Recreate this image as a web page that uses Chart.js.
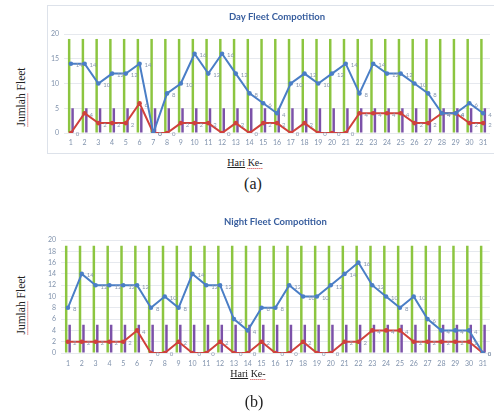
<!DOCTYPE html>
<html><head><meta charset="utf-8">
<script src="https://cdn.jsdelivr.net/npm/chart.js@4"></script>
<style>
html,body{margin:0;padding:0;background:#fff;width:494px;height:413px;overflow:hidden;}
body{position:relative;font-family:"Liberation Serif","Times New Roman",serif;color:#222;}
#boxA{position:absolute;left:47px;top:5px;width:470px;height:147px;border:1px solid #dde2ea;}
#cA{position:absolute;left:48px;top:6px;}
#cB{position:absolute;left:40px;top:210px;}
.t{position:absolute;white-space:nowrap;line-height:1;transform:translate(-50%,-50%);}
.yt{font-size:11.5px;transform:translate(-50%,-50%) rotate(-90deg);}
.xt{font-size:10px;}
.cap{font-size:16px;}
.sq{text-decoration:underline dotted #d23c3c;text-decoration-thickness:1px;text-underline-offset:2px;}
.ul{text-decoration:underline;text-underline-offset:1px;}
</style></head>
<body>
<div id="boxA"></div>
<canvas id="cA" width="446" height="147"></canvas>
<canvas id="cB" width="454" height="160"></canvas>
<div class="t yt" style="left:22px;top:97px;"><span class="sq">Jumlah</span> Fleet</div>
<div class="t xt" style="left:245px;top:163px;"><span class="ul">Hari</span> <span class="sq">Ke-</span></div>
<div class="t cap" style="left:253px;top:184px;">(a)</div>
<div class="t yt" style="left:22px;top:305px;"><span class="sq">Jumlah</span> Fleet</div>
<div class="t xt" style="left:248px;top:374px;"><span class="ul">Hari</span> <span class="sq">Ke-</span></div>
<div class="t cap" style="left:254px;top:402px;">(b)</div>
<script>
const days = ['1','2','3','4','5','6','7','8','9','10','11','12','13','14','15','16','17','18','19','20','21','22','23','24','25','26','27','28','29','30','31'];

const dayBlue   = [14,14,10,12,12,14,0,8,10,16,12,16,12,8,6,4,10,12,10,12,14,8,14,12,12,10,8,4,4,6,4];
const dayRed    = [0,4,2,2,2,6,0,0,2,2,2,0,2,0,2,2,0,2,0,0,0,4,4,4,4,2,2,4,4,2,2];
const dayGreen  = [19,19,19,19,19,19,19,19,19,19,19,19,19,19,19,19,19,19,19,19,19,19,19,19,19,19,19,19,19,19,19];
const dayPurple = [5,5,5,5,5,5,5,5,5,5,5,5,5,5,5,5,5,5,5,5,5,5,5,5,5,5,5,5,5,5,5];

const nightBlue   = [8,14,12,12,12,12,8,10,8,14,12,12,6,4,8,8,12,10,10,12,14,16,12,10,8,10,6,4,4,4,0];
const nightRed    = [2,2,2,2,2,4,0,0,2,0,0,2,0,0,2,0,0,2,0,0,2,2,4,4,4,2,2,2,2,2,0];
const nightGreen  = [19,19,19,19,19,19,19,19,19,19,19,19,19,19,19,19,19,19,19,19,19,19,19,19,19,19,19,19,19,19,19];
const nightPurple = [5,5,5,5,5,5,5,5,5,5,5,5,5,5,5,5,5,5,5,5,5,5,5,5,5,5,5,5,5,5,5];

const dayTitle = 'Day Fleet Compotition';
const nightTitle = 'Night Fleet Compotition';

const BLUE='#4a7ec6', RED='#d0413c', GREEN='#8cc540', PURPLE='#7c52a8', TICK='#8193ad';

const pointLabels = {
  id:'pointLabels',
  afterDatasetsDraw(chart){
    const ctx=chart.ctx;
    ctx.save();
    ctx.font='6px Lato';
    ctx.fillStyle='#8797ae';
    ctx.textBaseline='middle';
    ctx.textAlign='left';
    chart.data.datasets.forEach((ds,i)=>{
      if(ds.type!=='line') return;
      const meta=chart.getDatasetMeta(i);
      meta.data.forEach((pt,j)=>{ ctx.fillText(String(ds.data[j]), pt.x+5, pt.y+1.5); });
    });
    ctx.restore();
  }
};

function build(id, title, blue, red, green, purple, step, L){
  return new Chart(document.getElementById(id), {
    type:'bar',
    data:{labels:days, datasets:[
      {type:'line', data:blue, borderColor:BLUE, backgroundColor:BLUE, borderWidth:2, pointRadius:2.3, pointBorderWidth:0, pointBackgroundColor:BLUE, order:1},
      {type:'line', data:red, borderColor:RED, backgroundColor:RED, borderWidth:2, pointRadius:2.3, pointBorderWidth:0, pointBackgroundColor:RED, order:1},
      {type:'bar', data:green, backgroundColor:GREEN, categoryPercentage:0.5, barPercentage:0.72, order:2},
      {type:'bar', data:purple, backgroundColor:PURPLE, categoryPercentage:0.5, barPercentage:0.72, order:2}
    ]},
    options:{
      responsive:false, animation:false,
      layout:{padding:0},
      plugins:{
        legend:{display:false}, tooltip:{enabled:false},
        title:{display:true, text:title, fullSize:false, color:'#385e9e',
          font:{family:'Lato', size:9.5, weight:'bold'}, padding:{top:L.tp, bottom:L.bp}}
      },
      scales:{
        x:{grid:{display:false, drawTicks:false}, border:{display:false},
           ticks:{color:TICK, font:{family:'Lato', size:7}, padding:L.xp, maxRotation:0, autoSkip:false},
           afterFit(s){ s.height=L.xh; }},
        y:{min:0, max:20, grid:{color:'#e6e9ee', drawTicks:false}, border:{display:false},
           ticks:{stepSize:step, autoSkip:false, color:TICK, font:{family:'Lato', size:7}, padding:5},
           afterFit(s){ s.width=L.yw; }}
      }
    },
    plugins:[pointLabels]
  });
}

build('cA', dayTitle, dayBlue, dayRed, dayGreen, dayPurple, 5, {tp:5, bp:11.6, xh:20, yw:16, xp:6});
build('cB', nightTitle, nightBlue, nightRed, nightGreen, nightPurple, 2, {tp:6.3, bp:12.3, xh:17, yw:21, xp:7});
</script>
</body></html>
